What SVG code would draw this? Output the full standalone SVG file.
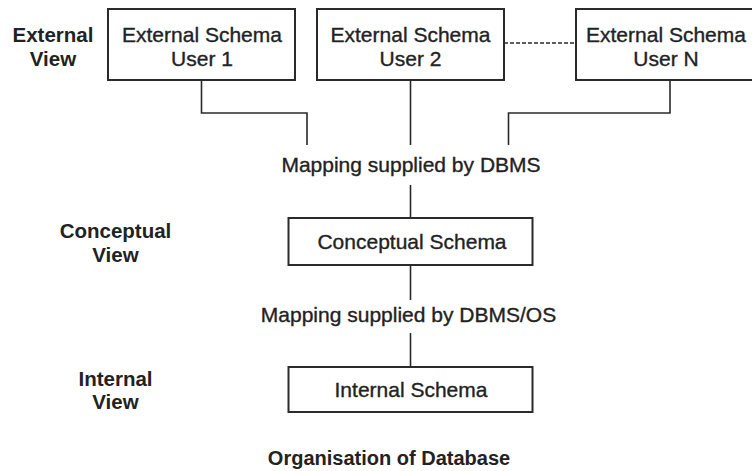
<svg xmlns="http://www.w3.org/2000/svg" width="752" height="471" viewBox="0 0 752 471">
  <style>
    .box { fill: #ffffff; stroke: #2a2a2a; stroke-width: 2; }
    .link { fill: none; stroke: #2a2a2a; stroke-width: 1.6; }
    .dash { fill: none; stroke: #2a2a2a; stroke-width: 1.3; stroke-dasharray: 4 2; }
    .t { font-family: "Liberation Sans", Arial, sans-serif; font-size: 21px; fill: #222222; stroke: #222222; stroke-width: 0.35; text-anchor: middle; }
    .lbl { font-family: "Liberation Sans", Arial, sans-serif; font-size: 20.5px; font-weight: bold; fill: #222222; text-anchor: middle; }
    .cap { font-family: "Liberation Sans", Arial, sans-serif; font-size: 20px; font-weight: bold; fill: #222222; text-anchor: middle; }
  </style>
  <rect width="752" height="471" fill="#ffffff"/>

  <!-- level labels -->
  <g id="label-external">
    <text class="lbl" x="53" y="42">External</text>
    <text class="lbl" x="53" y="66">View</text>
  </g>
  <g id="label-conceptual">
    <text class="lbl" x="115.5" y="238">Conceptual</text>
    <text class="lbl" x="115.5" y="262">View</text>
  </g>
  <g id="label-internal">
    <text class="lbl" x="115.5" y="386">Internal</text>
    <text class="lbl" x="115.5" y="409">View</text>
  </g>

  <!-- connectors -->
  <g id="connectors">
    <polyline class="link" points="201.5,80 201.5,113 307,113 307,145"/>
    <line class="link" x1="410.5" y1="80" x2="410.5" y2="145"/>
    <polyline class="link" points="670,80 670,113 508.5,113 508.5,145"/>
    <line class="dash" x1="504" y1="43" x2="576" y2="43"/>
    <line class="link" x1="410.5" y1="185" x2="410.5" y2="218"/>
    <line class="link" x1="410.5" y1="265" x2="410.5" y2="300"/>
    <line class="link" x1="410.5" y1="333" x2="410.5" y2="367"/>
  </g>

  <!-- external schemas -->
  <g id="ext-user1">
    <rect class="box" x="108" y="9" width="187" height="71"/>
    <text class="t" x="202" y="42">External Schema</text>
    <text class="t" x="202" y="66">User 1</text>
  </g>
  <g id="ext-user2">
    <rect class="box" x="317" y="9" width="187" height="71"/>
    <text class="t" x="410.5" y="42">External Schema</text>
    <text class="t" x="410.5" y="66">User 2</text>
  </g>
  <g id="ext-userN">
    <rect class="box" x="576" y="9" width="187" height="71"/>
    <text class="t" x="666" y="42">External Schema</text>
    <text class="t" x="666" y="66">User N</text>
  </g>

  <!-- mapping labels -->
  <g id="mapping-dbms">
    <text class="t" x="411" y="172">Mapping supplied by DBMS</text>
  </g>
  <g id="mapping-dbms-os">
    <text class="t" x="408.5" y="322">Mapping supplied by DBMS/OS</text>
  </g>

  <!-- conceptual and internal schemas -->
  <g id="conceptual-schema">
    <rect class="box" x="288.5" y="218" width="244" height="47"/>
    <text class="t" x="412" y="248.5">Conceptual Schema</text>
  </g>
  <g id="internal-schema">
    <rect class="box" x="288.5" y="367" width="244" height="45"/>
    <text class="t" x="411" y="397">Internal Schema</text>
  </g>

  <!-- caption -->
  <g id="caption">
    <text class="cap" x="389" y="465">Organisation of Database</text>
  </g>
</svg>
